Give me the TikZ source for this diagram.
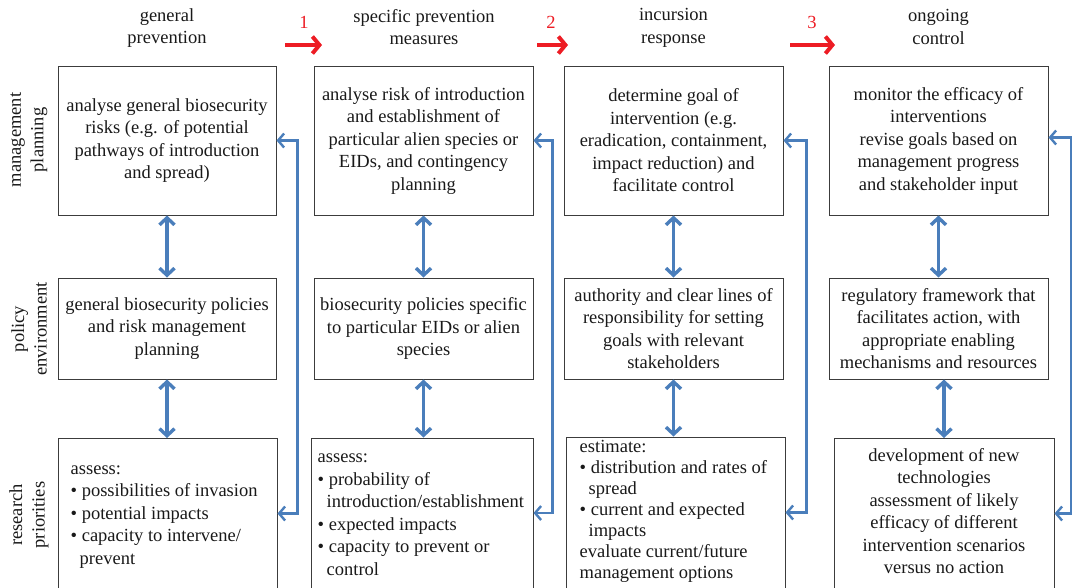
\documentclass[tikz,border=0pt]{standalone}
\usepackage{fontspec}
\setmainfont{Liberation Serif}
\usepackage{tikz}
\usetikzlibrary{arrows.meta, calc, positioning}

\definecolor{arrblue}{RGB}{74,126,187}
\definecolor{arrred}{RGB}{237,28,36}
\definecolor{boxline}{RGB}{60,60,60}

\begin{document}
\begin{tikzpicture}[x=1pt, y=-1pt,
	every node/.style={font=\fontsize{18.5}{22.5}\selectfont, text=black!90},
	box/.style={draw=boxline, line width=1pt, inner sep=3pt, align=center},
	toprow/.style={box, minimum width=219, minimum height=149},
	midrow/.style={box, minimum width=219, minimum height=101},
	lowrow/.style={box, minimum width=219, minimum height=150},
	head/.style={align=center, inner sep=0pt},
	rowlab/.style={align=center, rotate=90, inner sep=0pt},
	list/.style={anchor=base west, inner sep=0pt},
	dbl/.style={arrblue, line width=3.4pt, {Straight Barb[length=7pt,width=15pt]}-{Straight Barb[length=7pt,width=15pt]}},
	fb/.style={arrblue, line width=2.4pt, {Straight Barb[length=6pt,width=14pt]}-{Straight Barb[length=6pt,width=14pt]}},
	redarr/.style={arrred, line width=4pt, -{Straight Barb[length=7pt,width=17pt]}}]

	\useasboundingbox (0,0) rectangle (1072,587);

	% column heads
	\node[head] (h1) at (167,28) {general\\prevention};
	\node[head] (h2) at (424,27) {specific prevention\\measures};
	\node[head] (h3) at (673.5,28) {incursion\\response};
	\node[head] (h4) at (938.5,27) {ongoing\\control};

	% stage arrows
	\node[head, text=arrred] (n1) at (304,22) {1};
	\node[head, text=arrred] (n2) at (551,22) {2};
	\node[head, text=arrred] (n3) at (812,22) {3};
	\coordinate (r1a) at (285,45); \coordinate (r1b) at (322,45);
	\coordinate (r2a) at (537,45); \coordinate (r2b) at (568,45);
	\coordinate (r3a) at (790,45); \coordinate (r3b) at (835,45);
	\draw[redarr] (r1a) -- (r1b);
	\draw[redarr] (r2a) -- (r2b);
	\draw[redarr] (r3a) -- (r3b);

	% row labels
	\node[rowlab] (l1) at (29,140) {management\\planning};
	\node[rowlab] (l2) at (29,329) {policy\\environment};
	\node[rowlab] (l3) at (29,515) {research\\priorities};

	% management planning
	\node[toprow, minimum width=218] (mp1) at (167,140.5) {analyse general biosecurity\\risks (e.g. of potential\\pathways of introduction\\and spread)};
	\node[toprow] (mp2) at (423.5,140.5) {analyse risk of introduction\\and establishment of\\particular alien species or\\EIDs, and contingency\\planning};
	\node[toprow] (mp3) at (673.5,140.5) {determine goal of\\intervention (e.g.\\eradication, containment,\\impact reduction) and\\facilitate control};
	\node[toprow] (mp4) at (938.5,140.5) {monitor the efficacy of\\interventions\\revise goals based on\\management progress\\and stakeholder input};

	% policy environment
	\node[midrow, minimum width=218] (pe1) at (167,328.5) {general biosecurity policies\\and risk management\\planning};
	\node[midrow] (pe2) at (423.5,328.5) {biosecurity policies specific\\to particular EIDs or alien\\species};
	\node[midrow] (pe3) at (673.5,328.5) {authority and clear lines of\\responsibility for setting\\goals with relevant\\stakeholders};
	\node[midrow] (pe4) at (938.5,328.5) {regulatory framework that\\facilitates action, with\\appropriate enabling\\mechanisms and resources};

	% research priorities (boxes run off the bottom)
	\node[lowrow] (rp1) at (167.5,513.5) {};
	\node[lowrow, minimum width=222] (rp2) at (422,513) {};
	\node[lowrow, minimum height=151] (rp3) at (675.5,512.5) {};
	\node[lowrow, minimum width=220] (rp4) at (944,513.5) {};

	\node[list] (rp1t) at ($(rp1.north west)+(13,36)$) {\begin{minipage}[t]{205pt}
		assess:\\
		\textbullet\ possibilities of invasion\\
		\textbullet\ potential impacts\\
		\textbullet\ capacity to intervene/\\
		\hspace*{9pt}prevent\end{minipage}};
	\node[list] (rp2t) at ($(rp2.north west)+(7,25)$) {\begin{minipage}[t]{212pt}
		assess:\\
		\textbullet\ probability of\\
		\hspace*{9pt}introduction/establishment\\
		\textbullet\ expected impacts\\
		\textbullet\ capacity to prevent or\\
		\hspace*{9pt}control\end{minipage}};
	\node[list] (rp3t) at ($(rp3.north west)+(14,16)$) {\begin{minipage}[t]{205pt}\fontsize{18.5}{21}\selectfont
		estimate:\\
		\textbullet\ distribution and rates of\\
		\hspace*{9pt}spread\\
		\textbullet\ current and expected\\
		\hspace*{9pt}impacts\\
		evaluate current/future\\
		management options\end{minipage}};
	\node[list, anchor=base] (rp4t) at ($(rp4.north)+(0,23)$) {\begin{minipage}[t]{212pt}\centering
		development of new\\
		technologies\\
		assessment of likely\\
		efficacy of different\\
		intervention scenarios\\
		versus no action\end{minipage}};

	% links down each column
	\draw[dbl] (mp1.south) -- (pe1.north);
	\draw[dbl] (mp2.south) -- (pe2.north);
	\draw[dbl] (mp3.south) -- (pe3.north);
	\draw[dbl] (mp4.south) -- (pe4.north);
	\draw[dbl] (pe1.south) -- (rp1.north -| pe1.south);
	\draw[dbl] (pe2.south) -- (rp2.north -| pe2.south);
	\draw[dbl] (pe3.south) -- (rp3.north -| pe3.south);
	\draw[dbl] (rp4.north |- pe4.south) -- (rp4.north);

	% feedback from research to planning
	\draw[fb] (rp1.east) -- ++(20,0) |- (mp1.east);
	\draw[fb] (rp2.east) -- ++(19,0) |- (mp2.east);
	\draw[fb] (rp3.east) -- ++(21,0) |- (mp3.east);
	\draw[fb] (rp4.east) -- ++(17,0) |- ([yshift=3pt]mp4.east);
\end{tikzpicture}
\end{document}
